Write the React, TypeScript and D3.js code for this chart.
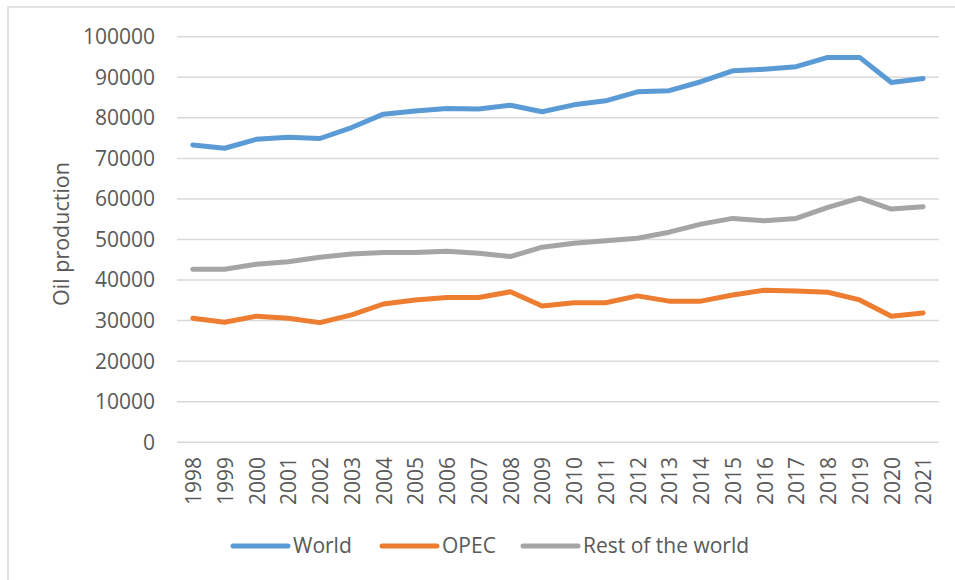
import React from "react";
import * as d3 from "d3";

const years = ["1998","1999","2000","2001","2002","2003","2004","2005","2006","2007","2008","2009","2010","2011","2012","2013","2014","2015","2016","2017","2018","2019","2020","2021"];
const world = [73300,72500,74700,75200,74900,77600,80900,81700,82300,82200,83100,81500,83200,84200,86400,86700,88900,91600,92000,92600,94900,94900,88700,89700];
const opec = [30600,29600,31100,30600,29500,31400,34100,35100,35700,35700,37100,33600,34400,34400,36100,34800,34800,36300,37500,37300,37000,35100,31100,31900];
const rest = [42650,42650,43900,44500,45600,46400,46800,46800,47100,46600,45800,48100,49100,49700,50300,51800,53800,55200,54600,55200,57900,60200,57500,58100];
const yTicks = [0,10000,20000,30000,40000,50000,60000,70000,80000,90000,100000];
const seriesNames = ["World","OPEC","Rest of the world"];
const colors = ["#5B9BD5","#ED7D31","#A5A5A5"];

export default function App() {
  const W = 955, H = 580;
  const left = 177, right = 939, top = 36.7, bottom = 442.3;
  const x = d3.scaleBand().domain(years).range([left, right]);
  const y = d3.scaleLinear().domain([0, 100000]).range([bottom, top]);
  const cx = (yr: string) => (x(yr) as number) + x.bandwidth() / 2;
  const line = d3.line<number>().x((_, i) => cx(years[i])).y((d) => y(d));
  const data = [world, opec, rest];
  const font = "'Open Sans', 'Noto Sans', sans-serif";
  const textColor = "#595959";
  const fs = 21;
  const legendItems = [
    { sx: 233, tx: 293 },
    { sx: 382, tx: 442 },
    { sx: 523, tx: 583 },
  ];
  return (
    <svg width={W} height={H} style={{ position: "absolute", left: 0, top: 0 }} fontFamily={font}>
      <rect x={0} y={0} width={W} height={H} fill="#fff" />
      <rect x={8} y={7} width={W + 10} height={H + 10} fill="none" stroke="#D9D9D9" strokeWidth={1.5} />
      {yTicks.map((t) => (
        <g key={t}>
          <line x1={left} x2={right} y1={y(t)} y2={y(t)} stroke="#D9D9D9" strokeWidth={1.5} />
          <text x={155} y={y(t)} dy="0.35em" textAnchor="end" fontSize={fs} fill={textColor}>{t}</text>
        </g>
      ))}
      {years.map((yr) => (
        <text key={yr} transform={`translate(${cx(yr) + 1},457) rotate(-90)`} textAnchor="end" dy="0.35em" fontSize={fs} fill={textColor}>{yr}</text>
      ))}
      <text transform={`translate(61,234) rotate(-90)`} textAnchor="middle" dy="0.35em" fontSize={21.5} fill={textColor}>Oil production</text>
      {data.map((d, i) => (
        <path key={i} d={line(d) as string} fill="none" stroke={colors[i]} strokeWidth={5} strokeLinejoin="round" strokeLinecap="round" />
      ))}
      {seriesNames.map((n, i) => (
        <g key={n}>
          <line x1={legendItems[i].sx} x2={legendItems[i].sx + 55} y1={546} y2={546} stroke={colors[i]} strokeWidth={5} strokeLinecap="round" />
          <text x={legendItems[i].tx} y={546} dy="0.35em" fontSize={fs} fill={textColor}>{n}</text>
        </g>
      ))}
    </svg>
  );
}
